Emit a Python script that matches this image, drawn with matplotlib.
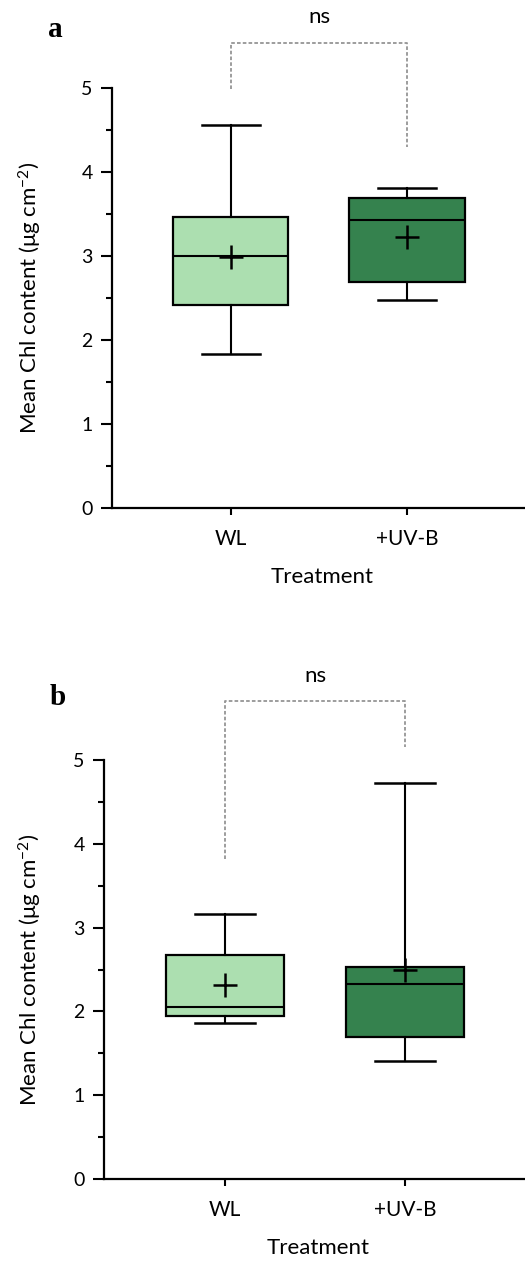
import numpy as np
import matplotlib

matplotlib.use('Agg')

import matplotlib.pyplot as plt
from matplotlib.ticker import MultipleLocator

plt.rcParams['font.family'] = ['Lato', 'DejaVu Sans']
plt.rcParams['mathtext.default'] = 'regular'

groups = ['WL', '+UV-B']
colors = ['#acdfb0', '#35824e']

# panel a: whisker low, Q1, median, Q3, whisker high, mean
a_low = [1.83, 2.48]
a_q1 = [2.42, 2.69]
a_med = [3.00, 3.43]
a_q3 = [3.46, 3.69]
a_high = [4.56, 3.81]
a_mean = [2.99, 3.23]

# panel b
b_low = [1.86, 1.41]
b_q1 = [1.94, 1.69]
b_med = [2.05, 2.33]
b_q3 = [2.67, 2.53]
b_high = [3.16, 4.72]
b_mean = [2.31, 2.50]

# "ns" bracket: top, left foot, right foot
a_bracket = [5.54, 4.99, 4.30]
b_bracket = [5.70, 3.82, 5.16]


def draw_panel(ax, low, q1, med, q3, high, mean, bracket, letter, ylab_x, letter_xy):
    stats = []
    for i in range(len(groups)):
        stats.append({'whislo': low[i], 'q1': q1[i], 'med': med[i], 'q3': q3[i],
                      'whishi': high[i], 'mean': mean[i], 'label': groups[i]})
    pos = np.arange(len(groups))
    bp = ax.bxp(stats, positions=pos, widths=0.655, patch_artist=True,
                showmeans=True, showfliers=False,
                boxprops=dict(linewidth=1.6, edgecolor='black'),
                medianprops=dict(color='black', linewidth=1.5),
                whiskerprops=dict(color='black', linewidth=1.5),
                capprops=dict(color='black', linewidth=1.8),
                meanprops=dict(marker='+', markersize=17, markeredgecolor='black',
                               markeredgewidth=1.8),
                capwidths=0.33)
    for patch, c in zip(bp['boxes'], colors):
        patch.set_facecolor(c)

    ax.set_ylim(0, 5)
    ax.set_xlim(-0.672, 1.667)
    ax.yaxis.set_major_locator(MultipleLocator(1))
    ax.yaxis.set_minor_locator(MultipleLocator(0.5))
    ax.spines['top'].set_visible(False)
    ax.spines['right'].set_visible(False)
    ax.spines['left'].set_linewidth(1.6)
    ax.spines['bottom'].set_linewidth(1.6)
    ax.tick_params(axis='y', which='major', length=8, width=1.5, labelsize=14, pad=6)
    ax.tick_params(axis='y', which='minor', length=4, width=1.5)
    ax.tick_params(axis='x', length=5, width=1.5, labelsize=15, pad=10)
    ax.set_xticks(pos)
    ax.set_xticklabels(groups)

    ax.set_xlabel('Treatment', fontsize=16, va='center')
    ax.xaxis.set_label_coords(0.508, -0.165)
    ax.set_ylabel('Mean Chl content (μg cm$^{-2}$)', fontsize=16)
    ax.yaxis.label.set_verticalalignment('center')
    ax.yaxis.set_label_coords(ylab_x, 0.5)

    top, left_foot, right_foot = bracket
    ax.plot([pos[0], pos[0], pos[1], pos[1]], [left_foot, top, top, right_foot],
            color='#959595', linewidth=1.3, linestyle=(0, (2, 1.2)), clip_on=False)
    ax.text(pos.mean(), top + 0.3, 'ns', ha='center', va='center', fontsize=16)
    ax.text(letter_xy[0], letter_xy[1], letter, transform=ax.transAxes,
            ha='center', va='center', fontsize=21, fontweight='bold',
            family='Liberation Serif')


fig = plt.figure(figsize=(5.25, 12.62), dpi=100)
ax1 = fig.add_axes([112 / 525, 1 - 508 / 1262, 1 - 112 / 525, 420 / 1262])
ax2 = fig.add_axes([104 / 525, 1 - 1179 / 1262, 1 - 104 / 525, 419 / 1262])

draw_panel(ax1, a_low, a_q1, a_med, a_q3, a_high, a_mean, a_bracket, 'a',
           -0.198, (-0.138, 1.14))
draw_panel(ax2, b_low, b_q1, b_med, b_q3, b_high, b_mean, b_bracket, 'b',
           -0.176, (-0.11, 1.15))

fig.savefig('out.png', dpi=100)
plt.close(fig)
